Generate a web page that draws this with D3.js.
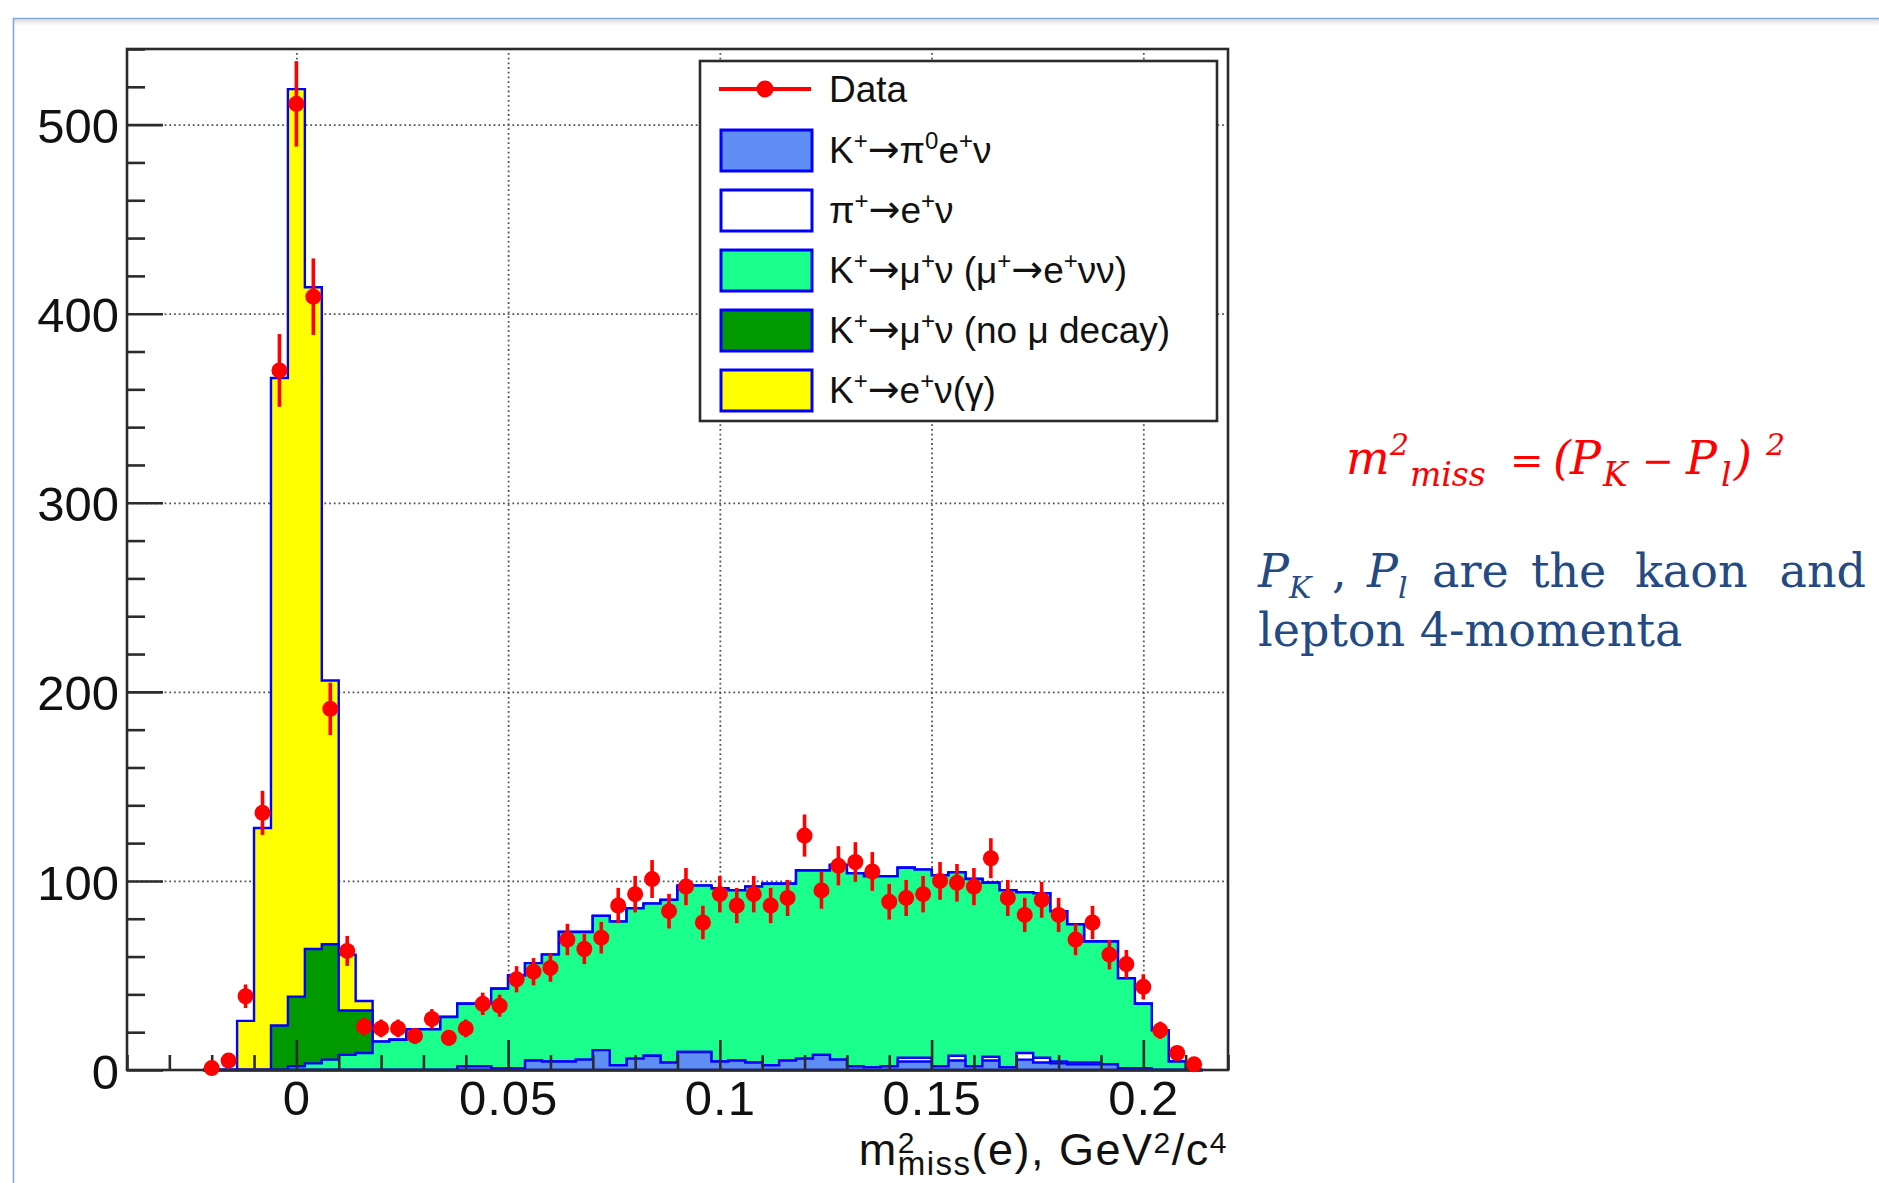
<!DOCTYPE html>
<html>
<head>
<meta charset="utf-8">
<script src="https://cdn.jsdelivr.net/npm/d3@7"></script>
<style>
	body { margin: 0; background: #fff; }
	#container { width: 1879px; height: 1183px; overflow: hidden; }
</style>
</head>
<body>
<div id="container"></div>
<script>
"use strict";

// bin centres of the m2miss histogram (GeV^2/c^4), bin width 0.004
const binCenter = [
	-0.020, -0.016, -0.012, -0.008, -0.004, 0.000, 0.004, 0.008, 0.012, 0.016,
	0.020, 0.024, 0.028, 0.032, 0.036, 0.040, 0.044, 0.048, 0.052, 0.056,
	0.060, 0.064, 0.068, 0.072, 0.076, 0.080, 0.084, 0.088, 0.092, 0.096,
	0.100, 0.104, 0.108, 0.112, 0.116, 0.120, 0.124, 0.128, 0.132, 0.136,
	0.140, 0.144, 0.148, 0.152, 0.156, 0.160, 0.164, 0.168, 0.172, 0.176,
	0.180, 0.184, 0.188, 0.192, 0.196, 0.200, 0.204, 0.208, 0.212,
];

// data counts per bin
const dataCounts = [
	1, 5, 39, 136, 370, 511, 409, 191, 63, 23,
	22, 22, 18, 27, 17, 22, 35, 34, 48, 52,
	54, 69, 64, 70, 87, 93, 101, 84, 97, 78,
	93, 87, 93, 87, 91, 124, 95, 108, 110, 105,
	89, 91, 93, 100, 99, 97, 112, 91, 82, 90,
	82, 69, 78, 61, 56, 44, 21, 9, 3,
];

// MC components, bottom of the stack first
const ke3 = [
	0, 0, 0, 0, 0, 0, 0, 0, 0, 0,
	0, 0, 0, 0, 0, 2, 2, 1, 1, 5,
	4.5, 4.5, 5.5, 10.5, 2.5, 6, 7.5, 4, 9.5, 9.5,
	4.5, 5, 4, 2.5, 5, 6, 8, 5.5, 2, 1.5,
	2, 4.5, 4.5, 2, 5, 2, 5, 1.5, 5.5, 4,
	3.5, 3, 3, 3, 1, 1, 0, 0, 0,
];
const pienu = [
	0, 0, 0, 0, 0, 0, 0, 0, 0, 0,
	0, 0, 0, 0, 0, 0, 0, 0, 0, 0,
	0, 0, 0, 0, 0, 0, 0, 0, 0, 0,
	0, 0, 0, 0, 0, 0, 0, 0, 0, 0,
	0, 2, 2, 0, 2.5, 0, 2, 0, 3.5, 2.5,
	1, 1, 1, 0, 0, 0, 0, 0, 0,
];
const kmu2Decay = [
	0, 0, 0, 0, 0, 2, 3.5, 5.5, 8, 9,
	15, 16, 21.5, 21.5, 28, 33, 33, 42, 49, 51.5,
	56.5, 68.5, 67.5, 71, 76, 79.5, 80.5, 86, 88, 88,
	91.5, 90, 93, 96, 93.5, 99.5, 97.5, 103, 102, 101,
	100.5, 100.5, 99.5, 101, 97, 99, 92, 93.5, 85, 87,
	79.5, 73, 64, 65, 47.5, 34, 21, 4.5, 0,
];
const kmu2NoDecay = [
	0, 0, 0, 0, 23.5, 36.8, 60.5, 61, 23.5, 22.5,
	0, 0, 0, 0, 0, 0, 0, 0, 0, 0,
	0, 0, 0, 0, 0, 0, 0, 0, 0, 0,
	0, 0, 0, 0, 0, 0, 0, 0, 0, 0,
	0, 0, 0, 0, 0, 0, 0, 0, 0, 0,
	0, 0, 0, 0, 0, 0, 0, 0, 0,
];
const ke2 = [
	0, 0, 26, 128, 342.5, 480, 350, 139.5, 29.5, 5,
	0, 0, 0, 0, 0, 0, 0, 0, 0, 0,
	0, 0, 0, 0, 0, 0, 0, 0, 0, 0,
	0, 0, 0, 0, 0, 0, 0, 0, 0, 0,
	0, 0, 0, 0, 0, 0, 0, 0, 0, 0,
	0, 0, 0, 0, 0, 0, 0, 0, 0,
];

const stackOrder = [ke3, pienu, kmu2Decay, kmu2NoDecay, ke2];
const stackColors = ["#5f8ff5", "#ffffff", "#1aff8c", "#009900", "#ffff00"];

// axes
const xDomain = [-0.04, 0.22];
const yDomain = [0, 540];
const xTicks = [0, 0.05, 0.1, 0.15, 0.2];
const xTickLabels = ["0", "0.05", "0.1", "0.15", "0.2"];
const yTicks = [0, 100, 200, 300, 400, 500];

// legend labels: sup = superscript, arr = arrow glyph
const legendLabels = [
	[{ t: "Data" }],
	[{ t: "K" }, { t: "+", sup: 1 }, { t: "\u2192", arr: 1 }, { t: "\u03c0" }, { t: "0", sup: 1 }, { t: "e" }, { t: "+", sup: 1 }, { t: "\u03bd" }],
	[{ t: "\u03c0" }, { t: "+", sup: 1 }, { t: "\u2192", arr: 1 }, { t: "e" }, { t: "+", sup: 1 }, { t: "\u03bd" }],
	[{ t: "K" }, { t: "+", sup: 1 }, { t: "\u2192", arr: 1 }, { t: "\u03bc" }, { t: "+", sup: 1 }, { t: "\u03bd (\u03bc" }, { t: "+", sup: 1 }, { t: "\u2192", arr: 1 }, { t: "e" }, { t: "+", sup: 1 }, { t: "\u03bd\u03bd)" }],
	[{ t: "K" }, { t: "+", sup: 1 }, { t: "\u2192", arr: 1 }, { t: "\u03bc" }, { t: "+", sup: 1 }, { t: "\u03bd (no \u03bc decay)" }],
	[{ t: "K" }, { t: "+", sup: 1 }, { t: "\u2192", arr: 1 }, { t: "e" }, { t: "+", sup: 1 }, { t: "\u03bd(\u03b3)" }],
];
// legend swatch fill per entry after Data
const legendFills = ["#5f8ff5", "#ffffff", "#1aff8c", "#009900", "#ffff00"];

const sans = "'Liberation Sans', Arial, Helvetica, sans-serif";
const arrowFont = "'DejaVu Sans', sans-serif";
const serif = "'DejaVu Serif', 'Liberation Serif', serif";
const histLine = "#0000ff";
const dataColor = "#ff0000";

const W = 1879, H = 1183;
const frame = { left: 127, right: 1228, top: 49, bottom: 1070 };

const svg = d3
	.select("#container")
	.append("svg")
	.attr("width", W)
	.attr("height", H);

// slide border with a soft shadow under the top edge
const shadow = svg.append("defs").append("linearGradient")
	.attr("id", "shadow").attr("x1", 0).attr("y1", 0).attr("x2", 0).attr("y2", 1);
shadow.append("stop").attr("offset", 0).attr("stop-color", "#dcdcdc");
shadow.append("stop").attr("offset", 1).attr("stop-color", "#ffffff");
svg.append("rect").attr("x", 14).attr("y", 19).attr("width", W).attr("height", 7).attr("fill", "url(#shadow)");
svg.append("path")
	.attr("d", `M13.5,${H}V18.5H${W}`)
	.attr("fill", "none")
	.attr("stroke", "#86a9da")
	.attr("stroke-width", 1.6);

const x = d3.scaleLinear().domain(xDomain).range([frame.left, frame.right]);
const y = d3.scaleLinear().domain(yDomain).range([frame.bottom, frame.top]);
const binWidth = binCenter[1] - binCenter[0];

const layerGrid = svg.append("g").attr("class", "layer");
const layerHist = svg.append("g").attr("class", "layer");
const layerAxes = svg.append("g").attr("class", "layer");
const layerData = svg.append("g").attr("class", "layer");
const layerLegend = svg.append("g").attr("class", "layer");
const layerText = svg.append("g").attr("class", "layer");

// dotted grid
const gridStyle = (g) => {
	g.select(".domain").remove();
	g.selectAll("line")
		.attr("stroke", "#555")
		.attr("stroke-width", 1.8)
		.attr("stroke-dasharray", "1.8,2.9");
};
layerGrid.append("g")
	.attr("transform", `translate(${frame.left},0)`)
	.call(d3.axisLeft(y).tickValues(yTicks.slice(1)).tickSize(-(frame.right - frame.left)).tickFormat(""))
	.call(gridStyle);
layerGrid.append("g")
	.attr("transform", `translate(0,${frame.bottom})`)
	.call(d3.axisBottom(x).tickValues(xTicks).tickSize(-(frame.bottom - frame.top)).tickFormat(""))
	.call(gridStyle);

// stacked histograms: draw cumulative sums from the top down, like THStack
const cumulative = stackOrder.map((s, i) =>
	binCenter.map((_, j) => d3.sum(stackOrder.slice(0, i + 1), (h) => h[j]))
);
const stepArea = d3
	.area()
	.x((d) => x(d[0]))
	.y0(y(0))
	.y1((d) => y(d[1]))
	.curve(d3.curveStepAfter);
const edgePoints = (vals) => {
	const pts = vals.map((v, j) => [binCenter[j] - binWidth / 2, v]);
	pts.push([binCenter[vals.length - 1] + binWidth / 2, vals[vals.length - 1]]);
	return pts;
};
for (let i = cumulative.length - 1; i >= 0; i--) {
	layerHist.append("path")
		.attr("d", stepArea(edgePoints(cumulative[i])))
		.attr("fill", stackColors[i])
		.attr("stroke", histLine)
		.attr("stroke-width", 2.4)
		.attr("stroke-linejoin", "miter");
}

// frame
layerAxes.append("rect")
	.attr("x", frame.left).attr("y", frame.top)
	.attr("width", frame.right - frame.left).attr("height", frame.bottom - frame.top)
	.attr("fill", "none")
	.attr("stroke", "#2b2b2b")
	.attr("stroke-width", 2.6);

const tickStyle = (g) => {
	g.select(".domain").remove();
	g.selectAll("line").attr("stroke", "#2b2b2b").attr("stroke-width", 2.6);
	g.selectAll("text")
		.attr("font-family", sans)
		.attr("font-size", 49)
		.attr("fill", "#111");
};

// y axis, ticks pointing into the frame
layerAxes.append("g")
	.attr("transform", `translate(${frame.left},0)`)
	.call(d3.axisLeft(y).tickValues(y.ticks(27).filter((v) => v % 100 !== 0)).tickSize(-18).tickFormat(""))
	.call(tickStyle);
layerAxes.append("g")
	.attr("transform", `translate(${frame.left},0)`)
	.call(d3.axisLeft(y).tickValues(yTicks).tickSize(-36).tickPadding(8).tickFormat(d3.format("d")))
	.call(tickStyle)
	.call((g) => g.selectAll("text").attr("dy", "0.37em"));

// x axis
layerAxes.append("g")
	.attr("transform", `translate(0,${frame.bottom})`)
	.call(d3.axisBottom(x).tickValues(x.ticks(26).filter((v) => !xTicks.some((t) => Math.abs(t - v) < 1e-9))).tickSize(-15).tickFormat(""))
	.call(tickStyle);
layerAxes.append("g")
	.attr("transform", `translate(0,${frame.bottom})`)
	.call(d3.axisBottom(x).tickValues(xTicks).tickSize(-30).tickPadding(10).tickFormat((d, i) => xTickLabels[i]))
	.call(tickStyle)
	.call((g) => g.selectAll("text").attr("letter-spacing", 1));

// lay out a run of text pieces as tspans of one text element, returns the end x
// piece: t text, s size, dy baseline shift, it italic, f family,
// stack (start where the previous piece started), at (absolute x)
function richText(parent, x0, y0, pieces, base) {
	const text = parent.append("text")
		.attr("font-family", base.family)
		.attr("font-size", base.size)
		.attr("letter-spacing", base.spacing || 0)
		.attr("fill", base.fill)
		.style("white-space", "pre");
	let cx = x0;
	let lastStart = x0;
	pieces.forEach((pc) => {
		const startX = pc.at !== undefined ? pc.at : pc.stack ? lastStart : cx;
		const t = text.append("tspan")
			.attr("x", startX)
			.attr("y", y0 + (pc.dy || 0))
			.attr("font-family", pc.f || base.family)
			.attr("font-size", pc.s || base.size)
			.attr("font-style", pc.it ? "italic" : "normal")
			.text(pc.t);
		const w = t.node().getComputedTextLength();
		if (pc.stack) {
			cx = Math.max(cx, startX + w);
		} else {
			lastStart = startX;
			cx = startX + w;
		}
	});
	return cx;
}

// x axis title, right aligned with the frame
const titleG = layerText.append("g");
const titleEnd = richText(titleG, 0, 1165, [
	{ t: "m" },
	{ t: "2", s: 30, dy: -12 },
	{ t: "miss", s: 33, dy: 10, stack: 1 },
	{ t: "(e), GeV" },
	{ t: "2", s: 30, dy: -12 },
	{ t: "/c" },
	{ t: "4", s: 30, dy: -12 },
], { family: sans, size: 45, fill: "#111", spacing: 1.5 });
titleG.attr("transform", `translate(${frame.right - titleEnd},0)`);

// data points with poisson error bars
const points = layerData.selectAll(".pt")
	.data(binCenter.map((c, j) => ({ c: c, n: dataCounts[j] })))
	.enter()
	.append("g")
	.attr("class", "pt");
points.append("line")
	.attr("x1", (d) => x(d.c)).attr("x2", (d) => x(d.c))
	.attr("y1", (d) => y(Math.max(0, d.n - Math.sqrt(d.n))))
	.attr("y2", (d) => y(d.n + Math.sqrt(d.n)))
	.attr("stroke", dataColor)
	.attr("stroke-width", 3.6);
points.append("circle")
	.attr("cx", (d) => x(d.c))
	.attr("cy", (d) => y(d.n))
	.attr("r", 8)
	.attr("fill", dataColor);

// legend
const leg = { x: 700, y: 61, w: 517, h: 360, rowY: [89, 150, 210, 270, 330, 390] };
layerLegend.append("rect")
	.attr("x", leg.x).attr("y", leg.y).attr("width", leg.w).attr("height", leg.h)
	.attr("fill", "#fff")
	.attr("stroke", "#2b2b2b")
	.attr("stroke-width", 2.6);
layerLegend.append("line")
	.attr("x1", 719).attr("x2", 811).attr("y1", leg.rowY[0]).attr("y2", leg.rowY[0])
	.attr("stroke", dataColor).attr("stroke-width", 4);
layerLegend.append("circle")
	.attr("cx", 765).attr("cy", leg.rowY[0]).attr("r", 8.5).attr("fill", dataColor);
legendFills.forEach((f, i) => {
	layerLegend.append("rect")
		.attr("x", 721).attr("y", leg.rowY[i + 1] - 20)
		.attr("width", 91).attr("height", 41)
		.attr("fill", f)
		.attr("stroke", histLine)
		.attr("stroke-width", 3);
});
legendLabels.forEach((pieces, i) => {
	richText(layerLegend, 829, leg.rowY[i] + 13,
		pieces.map((p) => {
			if (p.sup) return { t: p.t, s: 24, dy: -14 };
			if (p.arr) return { t: p.t, s: 38, dy: -1, f: arrowFont };
			return { t: p.t };
		}),
		{ family: sans, size: 37, fill: "#111" });
});

// formula and note on the right
richText(layerText, 1346, 474, [
	{ t: "m", it: 1, at: 1346 },
	{ t: "2", s: 30, dy: -19, it: 1, at: 1390 },
	{ t: "miss", s: 33, dy: 12, it: 1, at: 1410 },
	{ t: "=", s: 40, at: 1510 },
	{ t: "(", it: 1, at: 1553 },
	{ t: "P", it: 1, at: 1570 },
	{ t: "K", s: 33, dy: 12, it: 1, at: 1603 },
	{ t: "\u2212", s: 38, at: 1642 },
	{ t: "P", it: 1, at: 1686 },
	{ t: "l", s: 33, dy: 12, it: 1, at: 1721 },
	{ t: ")", it: 1, at: 1734 },
	{ t: "2", s: 30, dy: -19, it: 1, at: 1766 },
], { family: serif, size: 46, fill: "#ff0000" });

const noteStyle = { family: serif, size: 46, fill: "#234a83" };
richText(layerText, 1258, 587, [{ t: "P", it: 1 }, { t: "K", s: 30, dy: 11, it: 1 }], noteStyle);
richText(layerText, 1332, 587, [{ t: "," }], noteStyle);
richText(layerText, 1367, 587, [{ t: "P", it: 1 }, { t: "l", s: 30, dy: 11, it: 1 }], noteStyle);
richText(layerText, 1432, 587, [{ t: "are" }], noteStyle);
richText(layerText, 1531, 587, [{ t: "the" }], noteStyle);
richText(layerText, 1635, 587, [{ t: "kaon" }], noteStyle);
layerText.append("text")
	.attr("x", 1866).attr("y", 587)
	.attr("text-anchor", "end")
	.attr("font-family", serif).attr("font-size", 46).attr("fill", "#234a83")
	.text("and");
richText(layerText, 1258, 646, [{ t: "lepton 4-momenta" }], noteStyle);
</script>
</body>
</html>
